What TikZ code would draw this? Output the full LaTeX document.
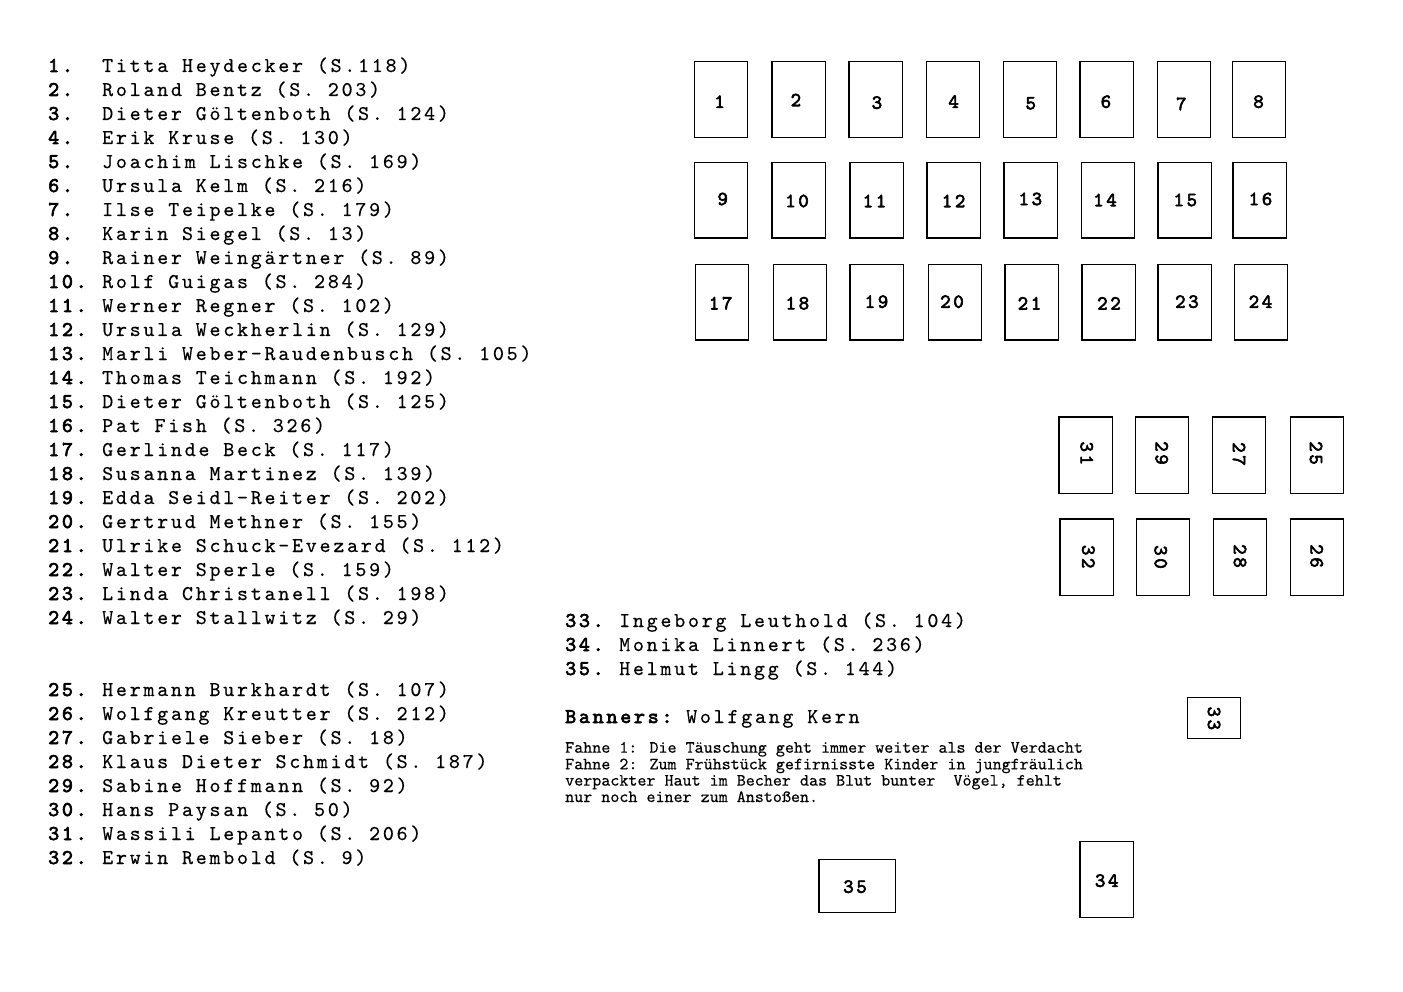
\documentclass[tikz,border=0pt]{standalone}
\usepackage{fontspec}
\newfontfamily\lstfont{lmmono10-regular}[Extension=.otf, LetterSpace=13, FakeBold=0.3]
\newfontfamily\lstbold{lmmono10-regular}[Extension=.otf, LetterSpace=13, FakeBold=3]
\newfontfamily\fahnefont{lmmono10-regular}[Extension=.otf, FakeBold=0.3]
\newcommand\mkseat[5]{%
  \pgfmathsetmacro\seatw{#4-#2-1.5}\pgfmathsetmacro\seath{#5-#3-1.5}%
  \pgfmathsetmacro\seatx{(#2+#4)/2}\pgfmathsetmacro\seaty{(#3+#5)/2}%
  \node[seat, minimum width=\seatw pt, minimum height=\seath pt] (#1) at (\seatx,\seaty) {};}
\begin{document}
\begin{tikzpicture}[x=1pt,y=-1pt,
  itemnum/.style={anchor=base west, inner sep=0pt, font=\lstbold\fontsize{21}{24}\selectfont},
  itemtext/.style={anchor=base west, inner sep=0pt, font=\lstfont\fontsize{21}{24}\selectfont},
  fahne/.style={anchor=base west, inner sep=0pt, font=\fahnefont\fontsize{17.2}{20}\selectfont},
  seat/.style={draw, line width=1.5pt, inner sep=0pt},
  seatlbl/.style={inner sep=0pt, font=\lstbold\fontsize{20}{24}\selectfont}]
\useasboundingbox (0,0) rectangle (1403,992);

% ---------- list 1-24 ----------
\foreach \t [count=\i] in {Titta Heydecker (S.118), Roland Bentz (S. 203), Dieter Göltenboth (S. 124), Erik Kruse (S. 130), Joachim Lischke (S. 169), Ursula Kelm (S. 216), Ilse Teipelke (S. 179), Karin Siegel (S. 13), Rainer Weingärtner (S. 89), Rolf Guigas (S. 284), Werner Regner (S. 102), Ursula Weckherlin (S. 129), Marli Weber-Raudenbusch (S. 105), Thomas Teichmann (S. 192), Dieter Göltenboth (S. 125), Pat Fish (S. 326), Gerlinde Beck (S. 117), Susanna Martinez (S. 139), Edda Seidl-Reiter (S. 202), Gertrud Methner (S. 155), Ulrike Schuck-Evezard (S. 112), Walter Sperle (S. 159), Linda Christanell (S. 198), Walter Stallwitz (S. 29)}{
  \pgfmathsetmacro\yy{72+24*(\i-1)}
  \node[itemnum] (n\i) at (48,\yy) {\i.};
  \node[itemtext] (t\i) at (102,\yy) {\t};
}
% ---------- list 25-32 ----------
\foreach \t [count=\j from 25] in {Hermann Burkhardt (S. 107), Wolfgang Kreutter (S. 212), Gabriele Sieber (S. 18), Klaus Dieter Schmidt (S. 187), Sabine Hoffmann (S. 92), Hans Paysan (S. 50), Wassili Lepanto (S. 206), Erwin Rembold (S. 9)}{
  \pgfmathsetmacro\yy{696+24*(\j-25)}
  \node[itemnum] (n\j) at (48,\yy) {\j.};
  \node[itemtext] (t\j) at (102,\yy) {\t};
}
% ---------- list 33-35 ----------
\foreach \t [count=\k from 33] in {Ingeborg Leuthold (S. 104), Monika Linnert (S. 236), Helmut Lingg (S. 144)}{
  \pgfmathsetmacro\yy{627+24*(\k-33)}
  \node[itemnum] (n\k) at (565,\yy) {\k.};
  \node[itemtext] (t\k) at (619,\yy) {\t};
}
\node[itemnum] (bannerslbl) at (565,723) {Banners:};
\node[itemtext] (banners) at (686,723) {Wolfgang Kern};
\node[fahne] (f1) at (565,752.7) {Fahne 1: Die Täuschung geht immer weiter als der Verdacht};
\node[fahne] (f2) at (565,769.3) {Fahne 2: Zum Frühstück gefirnisste Kinder in jungfräulich};
\node[fahne] (f3) at (565,785.6) {verpackter Haut im Becher das Blut bunter\ \ Vögel, fehlt};
\node[fahne] (f4) at (565,802) {nur noch einer zum Anstoßen.};

% ---------- seats ----------
\mkseat{b1}{693.8}{60.7}{748.4}{138.3}
\mkseat{b2}{771.3}{60.7}{826.3}{138.3}
\mkseat{b3}{848.4}{60.7}{903.4}{138.3}
\mkseat{b4}{925.5}{60.7}{980.1}{138.3}
\mkseat{b5}{1002.7}{60.7}{1057.2}{138.3}
\mkseat{b6}{1079.4}{60.7}{1134.3}{138.3}
\mkseat{b7}{1156.5}{60.7}{1211.0}{138.3}
\mkseat{b8}{1231.6}{60.7}{1286.2}{138.3}
\mkseat{b9}{693.8}{161.7}{748.4}{239}
\mkseat{b10}{771.3}{161.7}{826.3}{239}
\mkseat{b11}{849.2}{161.7}{904.2}{239}
\mkseat{b12}{926.3}{161.7}{981.3}{239}
\mkseat{b13}{1003.4}{161.7}{1058.4}{239}
\mkseat{b14}{1080.6}{161.7}{1135.1}{239}
\mkseat{b15}{1157.3}{161.7}{1212.2}{239}
\mkseat{b16}{1232.4}{161.7}{1287.4}{239}
\mkseat{b17}{694.6}{263.7}{749.2}{341}
\mkseat{b18}{772.5}{263.7}{827.1}{341}
\mkseat{b19}{849.2}{263.7}{904.2}{341}
\mkseat{b20}{927.5}{263.7}{982.1}{341}
\mkseat{b21}{1004.2}{263.7}{1059.2}{341}
\mkseat{b22}{1081.3}{263.7}{1136.3}{341}
\mkseat{b23}{1157.3}{263.7}{1212.2}{341}
\mkseat{b24}{1233.6}{263.7}{1288.1}{341}
\mkseat{b31}{1058.3}{416}{1113.3}{494}
\mkseat{b29}{1134.7}{416}{1189}{494}
\mkseat{b27}{1211.7}{416}{1266.3}{494}
\mkseat{b25}{1289.7}{416}{1344}{494}
\mkseat{b32}{1059.3}{518.3}{1114}{596}
\mkseat{b30}{1135.7}{518.3}{1190}{596}
\mkseat{b28}{1212.7}{518.3}{1267.3}{596}
\mkseat{b26}{1289.7}{518.3}{1344}{596}
\mkseat{b33}{1186.7}{696.7}{1241}{739.3}
\mkseat{b35}{818.3}{858.7}{896.3}{913.3}
\mkseat{b34}{1079.3}{840.7}{1134}{918.3}

% ---------- seat labels ----------
\foreach \t/\x/\y in {1/719.5/101.7, 2/795.9/100, 3/876.9/102.7, 4/953.6/101.7, 5/1030.7/103.3, 6/1105.9/101.7, 7/1181.4/104, 8/1258.5/101.7,
  9/722.7/199, 10/797/201, 11/874.5/201, 12/953.6/201, 13/1030.3/199, 14/1105/200, 15/1185.3/200, 16/1260.5/199,
  17/720.7/303.3, 18/797.4/303.3, 19/876.5/301.7, 20/952/301.7, 21/1029.5/303.3, 22/1109/303.3, 23/1186.9/301.7, 24/1260.5/301.7,
  35/855/886.7, 34/1106.7/880.7}{
  \node[seatlbl] (l\t) at (\x,\y) {\t};
}
\foreach \t/\x/\y in {31/1086.7/453.3, 29/1161.7/453, 27/1239/454, 25/1316/453,
  32/1088.3/556.7, 30/1160.7/557, 28/1240/556, 26/1316.7/556, 33/1214/718.3}{
  \node[seatlbl, rotate=-90] (l\t) at (\x,\y) {\t};
}
\end{tikzpicture}
\end{document}
